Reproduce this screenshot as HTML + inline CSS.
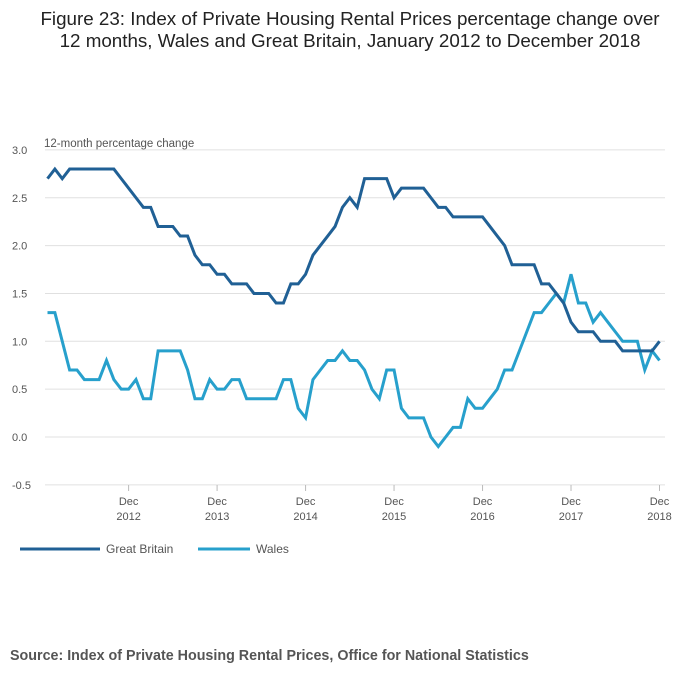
<!DOCTYPE html>
<html><head><meta charset="utf-8"><style>
body{margin:0;background:#fff;font-family:"Liberation Sans",sans-serif;}
#wrap{position:relative;width:700px;height:682px;}
</style></head><body>
<div id="wrap">
<svg id="chart" width="700" height="682">
<text x="350" y="25" text-anchor="middle" font-size="18.8" fill="#222">Figure 23: Index of Private Housing Rental Prices percentage change over</text>
<text x="350" y="47" text-anchor="middle" font-size="18.8" fill="#222">12 months, Wales and Great Britain, January 2012 to December 2018</text>
<text x="44" y="147" font-size="11.5" fill="#555">12-month percentage change</text>
<g id="grid"></g><g id="xaxis"></g><g id="lines"></g>
<g>
<line x1="20" y1="549" x2="100" y2="549" stroke="#206095" stroke-width="3"/>
<text x="106" y="553" font-size="12" fill="#555">Great Britain</text>
<line x1="198" y1="549" x2="250" y2="549" stroke="#27a0cc" stroke-width="3"/>
<text x="256" y="553" font-size="12" fill="#555">Wales</text>
</g>
<text x="10" y="660" font-size="14.3" font-weight="bold" fill="#555">Source: Index of Private Housing Rental Prices, Office for National Statistics</text>
</svg>
</div>
<script>
const yTicks=[-0.5,0,0.5,1.0,1.5,2.0,2.5,3.0];
const xTickMonths=[11,23,35,47,59,71,83];
const xTickLabels=["2012","2013","2014","2015","2016","2017","2018"];
const gbValues=[2.7,2.8,2.7,2.8,2.8,2.8,2.8,2.8,2.8,2.8,2.7,2.6,2.5,2.4,2.4,2.2,2.2,2.2,2.1,2.1,1.9,1.8,1.8,1.7,1.7,1.6,1.6,1.6,1.5,1.5,1.5,1.4,1.4,1.6,1.6,1.7,1.9,2.0,2.1,2.2,2.4,2.5,2.4,2.7,2.7,2.7,2.7,2.5,2.6,2.6,2.6,2.6,2.5,2.4,2.4,2.3,2.3,2.3,2.3,2.3,2.2,2.1,2.0,1.8,1.8,1.8,1.8,1.6,1.6,1.5,1.4,1.2,1.1,1.1,1.1,1.0,1.0,1.0,0.9,0.9,0.9,0.9,0.9,1.0];
const walesValues=[1.3,1.3,1.0,0.7,0.7,0.6,0.6,0.6,0.8,0.6,0.5,0.5,0.6,0.4,0.4,0.9,0.9,0.9,0.9,0.7,0.4,0.4,0.6,0.5,0.5,0.6,0.6,0.4,0.4,0.4,0.4,0.4,0.6,0.6,0.3,0.2,0.6,0.7,0.8,0.8,0.9,0.8,0.8,0.7,0.5,0.4,0.7,0.7,0.3,0.2,0.2,0.2,0.0,-0.1,0.0,0.1,0.1,0.4,0.3,0.3,0.4,0.5,0.7,0.7,0.9,1.1,1.3,1.3,1.4,1.5,1.4,1.7,1.4,1.4,1.2,1.3,1.2,1.1,1.0,1.0,1.0,0.7,0.9,0.8];
const NS="http://www.w3.org/2000/svg";
const x=m=>47.5+m*(612/83);
const y=v=>437-v*95.7;
const grid=document.getElementById('grid');
yTicks.forEach(t=>{
  const l=document.createElementNS(NS,'line');
  l.setAttribute('x1',45);l.setAttribute('x2',665);l.setAttribute('y1',y(t));l.setAttribute('y2',y(t));
  l.setAttribute('stroke','#e0e0e0');l.setAttribute('stroke-width',1);
  
  
  grid.appendChild(l);
  const tx=document.createElementNS(NS,'text');
  tx.setAttribute('x',12);tx.setAttribute('y',y(t)+4);tx.setAttribute('font-size',11);tx.setAttribute('fill','#555');
  tx.textContent=t.toFixed(1);
  
  
  grid.appendChild(tx);
});
const xa=document.getElementById('xaxis');
xTickMonths.forEach((m,i)=>{
  const l=document.createElementNS(NS,'line');
  l.setAttribute('x1',x(m));l.setAttribute('x2',x(m));l.setAttribute('y1',485);l.setAttribute('y2',491);
  l.setAttribute('stroke','#bbb');
  
  
  xa.appendChild(l);
  ['Dec',xTickLabels[i]].forEach((s,j)=>{
    const tx=document.createElementNS(NS,'text');
    tx.setAttribute('x',x(m));tx.setAttribute('y',505+j*15);tx.setAttribute('font-size',11);
    tx.setAttribute('fill','#555');tx.setAttribute('text-anchor','middle');
    tx.textContent=s;
    
    
    xa.appendChild(tx);
  });
});
const lines=document.getElementById('lines');
[[walesValues,'#27a0cc','wales-line'],[gbValues,'#206095','great-britain-line']].forEach(([vals,c,n])=>{
  const p=document.createElementNS(NS,'polyline');
  p.setAttribute('points',vals.map((v,i)=>x(i)+','+y(v)).join(' '));
  p.setAttribute('fill','none');p.setAttribute('stroke',c);p.setAttribute('stroke-width',3);
  
  
  lines.appendChild(p);
});
</script>
</body></html>
